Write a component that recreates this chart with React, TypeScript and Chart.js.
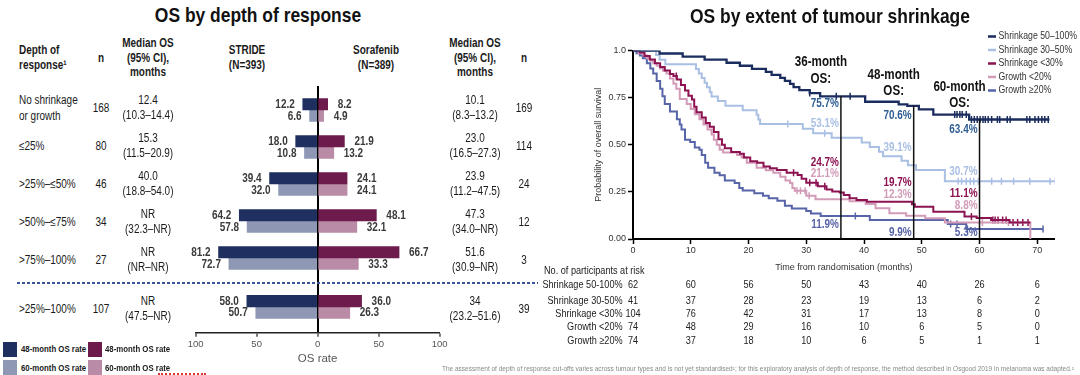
import React, { useEffect, useRef } from 'react';
import { Chart, registerables } from 'chart.js';

Chart.register(...registerables);

const FONT = '"Liberation Sans", Arial, sans-serif';
const SX = 0.83; // horizontal condensing to mimic a narrow face

// ---------------- Left panel: OS by depth of response ----------------
const depthLabels = [['No shrinkage', 'or growth'], ['≤25%'], ['>25%–≤50%'], ['>50%–≤75%'], ['>75%–100%'], ['>25%–100%']];
const strideN = [168, 80, 46, 34, 27, 107];
const strideMedian = ['12.4', '15.3', '40.0', 'NR', 'NR', 'NR'];
const strideCI = ['(10.3–14.4)', '(11.5–20.9)', '(18.8–54.0)', '(32.3–NR)', '(NR–NR)', '(47.5–NR)'];
const soraN = [169, 114, 24, 12, 3, 39];
const soraMedian = ['10.1', '23.0', '23.9', '47.3', '51.6', '34'];
const soraCI = ['(8.3–13.2)', '(16.5–27.3)', '(11.2–47.5)', '(34.0–NR)', '(30.9–NR)', '(23.2–51.6)'];
const stride48 = [12.2, 18.0, 39.4, 64.2, 81.2, 58.0];
const stride60 = [6.6, 10.8, 32.0, 57.8, 72.7, 50.7];
const sora48 = [8.2, 21.9, 24.1, 48.1, 66.7, 36.0];
const sora60 = [4.9, 13.2, 24.1, 32.1, 33.3, 26.3];
const rowSlots = [0, 1, 2, 3, 4, 5.32];
const osRateTicks = [-100, -50, 0, 50, 100];
const barColors = ['#1f2f5f', '#8e98b4', '#6c1b4c', '#b98ba6'];
const legendNames = ['48-month OS rate', '60-month OS rate'];

// ---------------- Right panel: OS by extent of tumour shrinkage ----------------
const groupNames = ['Shrinkage 50–100%', 'Shrinkage 30–50%', 'Shrinkage <30%', 'Growth <20%', 'Growth ≥20%'];
const riskLabels = ['Shrinkage 50-100%', 'Shrinkage 30-50%', 'Shrinkage <30%', 'Growth <20%', 'Growth ≥20%'];
const kmTimeTicks = [0, 10, 20, 30, 40, 50, 60, 70];
const kmSurvTicks = [0, 0.25, 0.5, 0.75, 1];
const curveColors = ['#1b2c5e', '#a9bfe3', '#8c1251', '#d29bb8', '#5864a8'];
const rateColors = ['#2f5e95', '#a9bfe3', '#8c1251', '#d29bb8', '#5864a8'];

const riskShrink50 = [62, 60, 56, 50, 43, 40, 26, 6];
const riskShrink30 = [41, 37, 28, 23, 19, 13, 6, 2];
const riskShrinkLt30 = [104, 76, 42, 31, 17, 13, 8, 0];
const riskGrowthLt20 = [74, 48, 29, 16, 10, 6, 5, 0];
const riskGrowthGe20 = [74, 37, 18, 10, 6, 5, 1, 1];

// [month, survival after the event]
const stepsShrink50 = [[0, 1], [4.6, 0.984], [8.6, 0.968], [12.4, 0.952], [16.2, 0.935], [18.5, 0.919], [20.6, 0.903], [23.0, 0.887], [24.0, 0.871], [25.5, 0.855], [26.3, 0.839], [27.2, 0.823], [27.8, 0.806], [28.8, 0.79], [30.6, 0.774], [32.4, 0.757], [40.2, 0.728], [46.0, 0.714], [47.5, 0.706], [49.5, 0.688], [52.0, 0.66], [58.2, 0.634]];
const stepsShrink30 = [[0, 1], [4.0, 0.976], [4.6, 0.951], [5.6, 0.927], [10.9, 0.902], [11.4, 0.878], [11.9, 0.854], [12.4, 0.829], [12.8, 0.805], [13.3, 0.78], [13.6, 0.756], [14.7, 0.732], [16.0, 0.707], [19.0, 0.683], [21.4, 0.659], [21.7, 0.634], [22.0, 0.61], [29.4, 0.585], [31.2, 0.561], [34.4, 0.537], [39.6, 0.512], [41.0, 0.488], [42.6, 0.463], [43.3, 0.439], [46.5, 0.415], [47.6, 0.391], [49.0, 0.366], [54.0, 0.307]];
const stepsShrinkLt30 = [[0, 1], [1.2, 0.99], [2.0, 0.971], [2.9, 0.952], [3.8, 0.933], [4.7, 0.913], [5.5, 0.894], [6.4, 0.875], [7.0, 0.865], [7.6, 0.846], [8.3, 0.817], [9.0, 0.788], [9.6, 0.76], [10.2, 0.74], [10.6, 0.702], [11.0, 0.673], [11.9, 0.644], [12.6, 0.615], [13.3, 0.596], [14.0, 0.567], [14.8, 0.529], [15.4, 0.5], [15.9, 0.481], [17.0, 0.462], [18.5, 0.452], [19.2, 0.433], [20.3, 0.413], [21.5, 0.404], [22.6, 0.384], [23.7, 0.375], [24.9, 0.366], [26.6, 0.352], [28.5, 0.34], [29.2, 0.32], [30.0, 0.298], [32.0, 0.28], [33.5, 0.262], [34.5, 0.252], [35.8, 0.247], [36.5, 0.233], [37.5, 0.216], [38.7, 0.207], [40.5, 0.197], [48.3, 0.185], [48.8, 0.171], [52.0, 0.145], [57.4, 0.12], [59.5, 0.111], [62.0, 0.101], [65.2, 0.087]];
const stepsGrowthLt20 = [[0, 1], [1.0, 0.986], [1.8, 0.973], [2.4, 0.959], [3.0, 0.946], [3.5, 0.932], [4.1, 0.919], [4.7, 0.905], [5.2, 0.892], [5.8, 0.878], [6.4, 0.851], [7.0, 0.824], [7.5, 0.797], [8.1, 0.743], [9.3, 0.716], [10.0, 0.689], [10.7, 0.662], [11.5, 0.635], [12.2, 0.608], [12.9, 0.581], [13.6, 0.554], [14.0, 0.527], [14.5, 0.5], [15.0, 0.473], [15.6, 0.459], [18.0, 0.446], [18.8, 0.432], [19.7, 0.405], [21.4, 0.378], [23.0, 0.365], [24.3, 0.351], [25.5, 0.33], [26.4, 0.311], [27.2, 0.297], [27.6, 0.27], [28.0, 0.256], [30.0, 0.23], [31.6, 0.211], [37.5, 0.2], [40.3, 0.186], [42.0, 0.163], [44.4, 0.136], [47.3, 0.123], [50.6, 0.11], [54.0, 0.088], [68.8, 0]];
const stepsGrowthGe20 = [[0, 1], [0.6, 0.986], [1.2, 0.973], [1.7, 0.959], [2.4, 0.932], [3.0, 0.905], [3.5, 0.878], [4.1, 0.838], [4.7, 0.797], [5.1, 0.757], [5.5, 0.716], [6.4, 0.676], [7.6, 0.635], [8.1, 0.608], [8.4, 0.581], [9.0, 0.527], [9.9, 0.514], [10.7, 0.486], [11.5, 0.473], [11.9, 0.446], [12.5, 0.405], [13.0, 0.378], [14.1, 0.351], [15.0, 0.338], [15.9, 0.311], [17.6, 0.297], [18.4, 0.27], [19.0, 0.257], [21.0, 0.243], [22.5, 0.23], [23.5, 0.216], [25.0, 0.203], [26.3, 0.176], [27.5, 0.162], [30.0, 0.149], [30.8, 0.135], [32.5, 0.122], [41.0, 0.101], [54.5, 0.079], [57.7, 0.053]];
const curveEnds = [72.1, 73.4, 68.8, 68.8, 71.0];

const censorShrink50 = [30.6, 35.2, 37.6, 55.7, 56.1, 56.6, 57.0, 57.7, 58.6, 59.1, 59.6, 60.1, 60.6, 61.0, 61.5, 62.1, 63.1, 63.5, 64.8, 65.3, 68.2, 68.7, 69.6, 70.2, 70.8, 71.3, 71.9];
const censorShrink30 = [26.8, 33.2, 56.3, 56.9, 57.7, 58.4, 59.0, 59.8, 62.1, 63.8, 65.9, 68.7, 72.2, 73.1];
const censorShrinkLt30 = [7.5, 27.8, 30.6, 31.7, 33.2, 58.6, 62.3, 62.7, 63.2, 64.0, 64.6, 65.8, 66.6, 67.5, 68.4];
const censorGrowthLt20 = [28.4, 29.0, 29.8, 30.5, 60.5, 65.0];
const censorGrowthGe20 = [38.5, 55.0, 56.1, 57.9, 71.0];

const landmarkMonths = [36, 48.6, 60];
const landmarkTitles = ['36-month', '48-month', '60-month'];
const landmarkRates = [
  ['75.7%', '53.1%', '24.7%', '21.1%', '11.9%'],
  ['70.6%', '39.1%', '19.7%', '12.3%', '9.9%'],
  ['63.4%', '30.7%', '11.1%', '8.8%', '5.3%'],
];
// vertical anchor (survival units) where each landmark text sits
const landmarkLabelAt = [
  [0.716, 0.61, 0.407, 0.344, 0.074],
  [0.653, 0.487, 0.3, 0.234, 0.034],
  [0.582, 0.357, 0.239, 0.177, 0.034],
];
const landmarkTitleY = [62.5, 75, 87];

const kmSteps = [stepsShrink50, stepsShrink30, stepsShrinkLt30, stepsGrowthLt20, stepsGrowthGe20];
const kmCensors = [censorShrink50, censorShrink30, censorShrinkLt30, censorGrowthLt20, censorGrowthGe20];
const kmRisk = [riskShrink50, riskShrink30, riskShrinkLt30, riskGrowthLt20, riskGrowthGe20];

const survivalAt = (steps: number[][], t: number) => {
  let s = steps[0][1];
  for (const [ti, si] of steps) {
    if (ti <= t) s = si;
    else break;
  }
  return s;
};

const drawText = (ctx: any, txt: string, x: number, y: number, align: string, k = SX) => {
  ctx.save();
  ctx.translate(x, y);
  ctx.scale(k, 1);
  ctx.textAlign = align;
  ctx.fillText(txt, 0, 0);
  ctx.restore();
};

const T = ({ x, y, a = 'c', s = 12, b = false, c = '#1a1a1a', k = SX, children }: any) => {
  const tx = a === 'c' ? '-50%' : a === 'r' ? '-100%' : '0';
  const origin = a === 'c' ? 'center center' : a === 'r' ? 'right center' : 'left center';
  return (
    <div
      style={{
        position: 'absolute', left: x, top: y, transform: `translate(${tx},-50%) scaleX(${k})`,
        transformOrigin: origin,
        fontFamily: FONT, fontSize: s, fontWeight: b ? 700 : 400, color: c,
        whiteSpace: 'nowrap', lineHeight: 1,
      }}
    >
      {children}
    </div>
  );
};

function DepthChart() {
  const ref = useRef<HTMLCanvasElement>(null);
  useEffect(() => {
    const mk = (vals: number[], sign: number) => vals.map((v, i) => ({ x: sign * v, y: rowSlots[i] }));
    const labelPlugin = {
      id: 'barLabels',
      afterDatasetsDraw(chart: any) {
        const ctx = chart.ctx;
        ctx.save();
        ctx.font = `bold 12px ${FONT}`;
        ctx.fillStyle = '#3a3a3a';
        ctx.textBaseline = 'middle';
        chart.data.datasets.forEach((ds: any, di: number) => {
          const meta = chart.getDatasetMeta(di);
          meta.data.forEach((el: any, i: number) => {
            const v = ds.data[i].x;
            const txt = Math.abs(v).toFixed(1);
            if (v < 0) drawText(ctx, txt, el.x - 8, el.y + 0.5, 'right');
            else drawText(ctx, txt, el.x + 10, el.y + 0.5, 'left');
          });
        });
        ctx.restore();
      },
    };
    const chart = new Chart(ref.current!, {
      type: 'bar',
      data: {
        datasets: [
          { label: 'STRIDE 48', data: mk(stride48, -1), backgroundColor: barColors[0], stack: 'm48' },
          { label: 'STRIDE 60', data: mk(stride60, -1), backgroundColor: barColors[1], stack: 'm60' },
          { label: 'Sorafenib 48', data: mk(sora48, 1), backgroundColor: barColors[2], stack: 'm48' },
          { label: 'Sorafenib 60', data: mk(sora60, 1), backgroundColor: barColors[3], stack: 'm60' },
        ] as any,
      },
      options: {
        indexAxis: 'y',
        animation: false,
        responsive: true,
        maintainAspectRatio: false,
        datasets: { bar: { barThickness: 11.5 } } as any,
        layout: { padding: { left: 35.6, right: 20.3, top: 6, bottom: 7.3 } },
        plugins: { legend: { display: false }, tooltip: { enabled: false } },
        scales: {
          x: {
            type: 'linear', min: -100, max: 100, stacked: true,
            afterBuildTicks: (s: any) => { s.ticks = osRateTicks.map((v) => ({ value: v })); },
            ticks: { callback: (v: any) => String(Math.abs(v)), font: { family: FONT, size: 9.5 }, color: '#555', padding: 1.5 },
            grid: {
              color: (c: any) => (c.tick && c.tick.value === 0 ? '#000' : 'rgba(0,0,0,0)'),
              lineWidth: (c: any) => (c.tick && c.tick.value === 0 ? 2 : 0),
              tickLength: 4, tickColor: '#222', tickWidth: 1.2,
            },
            border: { display: true, color: '#222', width: 1.5 },
            title: { display: true, text: 'OS rate', font: { family: FONT, size: 11.5 }, color: '#555', padding: { top: 0, bottom: 2 } },
            afterFit: (s: any) => { s.height = 35; },
          } as any,
          y: { type: 'linear', reverse: true, offset: false, min: -0.65, max: 6.02, display: false } as any,
        },
      },
      plugins: [labelPlugin],
    });
    return () => chart.destroy();
  }, []);
  return (
    <div style={{ position: 'absolute', left: 160, top: 80, width: 300, height: 295 }}>
      <canvas ref={ref} />
    </div>
  );
}

function KMChart() {
  const ref = useRef<HTMLCanvasElement>(null);
  useEffect(() => {
    const curves = kmSteps.map((steps, i) => ({
      type: 'line',
      label: groupNames[i],
      data: [...steps.map(([x, y]) => ({ x, y })), { x: curveEnds[i], y: steps[steps.length - 1][1] }],
      stepped: 'before',
      borderColor: curveColors[i],
      borderWidth: i === 0 ? 2.3 : 2,
      pointRadius: 0,
      fill: false,
    }));
    const censors = kmCensors.map((cs, i) => ({
      type: 'line',
      label: groupNames[i] + ' censored',
      data: cs.map((t) => ({ x: t, y: survivalAt(kmSteps[i], t) })),
      showLine: false,
      pointStyle: 'line',
      pointRotation: 90,
      pointRadius: 3.5,
      pointBorderWidth: 1.5,
      pointBorderColor: curveColors[i],
      pointBackgroundColor: curveColors[i],
      borderColor: curveColors[i],
    }));
    const overlay = {
      id: 'kmOverlay',
      afterDatasetsDraw(chart: any) {
        const { ctx } = chart;
        const xs = chart.scales.x, ys = chart.scales.y;
        ctx.save();
        landmarkMonths.forEach((m, k) => {
          const px = xs.getPixelForValue(m);
          ctx.strokeStyle = '#111';
          ctx.lineWidth = 1.5;
          ctx.beginPath();
          ctx.moveTo(px, ys.getPixelForValue(0));
          ctx.lineTo(px, ys.getPixelForValue(survivalAt(kmSteps[0], m)));
          ctx.stroke();
          ctx.fillStyle = '#111';
          ctx.font = `bold 14px ${FONT}`;
          ctx.textBaseline = 'middle';
          drawText(ctx, landmarkTitles[k], px - 20, landmarkTitleY[k], 'center');
          drawText(ctx, 'OS:', px - 20, landmarkTitleY[k] + 16.5, 'center');
          ctx.font = `bold 12px ${FONT}`;
          landmarkRates[k].forEach((r, g) => {
            ctx.fillStyle = rateColors[g];
            drawText(ctx, r, px - 2, ys.getPixelForValue(landmarkLabelAt[k][g]), 'right');
          });
        });
        ctx.restore();
      },
      afterDraw(chart: any) {
        const { ctx } = chart;
        const xs = chart.scales.x;
        ctx.save();
        // legend
        const legendY = [36.5, 50, 63.5, 77, 90.5];
        groupNames.forEach((name, i) => {
          const y = legendY[i];
          ctx.strokeStyle = curveColors[i];
          ctx.lineWidth = 2.5;
          ctx.beginPath();
          ctx.moveTo(448, y);
          ctx.lineTo(456, y);
          ctx.stroke();
          ctx.fillStyle = '#333';
          ctx.font = `10.5px ${FONT}`;
          ctx.textBaseline = 'middle';
          drawText(ctx, name, 458.5, y, 'left');
        });
        // numbers at risk
        const rowY = [284.5, 300.5, 313.5, 326.5, 340.5];
        ctx.font = `11px ${FONT}`;
        ctx.fillStyle = '#222';
        ctx.textBaseline = 'middle';
        drawText(ctx, 'No. of participants at risk', 4, 271, 'left');
        kmRisk.forEach((row, r) => {
          drawText(ctx, riskLabels[r], 82.6, rowY[r], 'right');
          row.forEach((n, i) => drawText(ctx, String(n), xs.getPixelForValue(kmTimeTicks[i]), rowY[r], 'center'));
        });
        ctx.restore();
      },
    };
    const chart = new Chart(ref.current!, {
      type: 'line',
      data: { datasets: [...curves, ...censors] as any },
      options: {
        animation: false,
        responsive: true,
        maintainAspectRatio: false,
        layout: { padding: { left: 0, right: 25.4, top: 50.5, bottom: 102 } },
        plugins: { legend: { display: false }, tooltip: { enabled: false } },
        scales: {
          x: {
            type: 'linear', min: 0, max: 73,
            afterBuildTicks: (s: any) => { s.ticks = kmTimeTicks.map((v) => ({ value: v })); },
            ticks: { font: { family: FONT, size: 9 }, color: '#333', padding: 1.5, maxRotation: 0, autoSkip: false },
            grid: { drawOnChartArea: false, tickLength: 5, tickColor: '#000', tickWidth: 1.5 },
            border: { color: '#000', width: 2 },
            title: { display: true, text: 'Time from randomisation (months)', font: { family: FONT, size: 9 }, color: '#333', padding: { top: 0, bottom: 0.5 } },
            afterFit: (s: any) => { s.height = 34; },
          } as any,
          y: {
            type: 'linear', min: 0, max: 1,
            afterBuildTicks: (s: any) => { s.ticks = kmSurvTicks.map((v) => ({ value: v })); },
            ticks: { callback: (v: any) => (v === 1 ? '1.0' : Number(v).toFixed(2)), font: { family: FONT, size: 9 }, color: '#333', padding: 2 },
            grid: { drawOnChartArea: false, tickLength: 5, tickColor: '#000', tickWidth: 1.5 },
            border: { color: '#000', width: 2 },
            title: { display: true, text: 'Probability of overall survival', font: { family: FONT, size: 9 }, color: '#333', padding: { top: 53, bottom: 0 } },
            afterFit: (s: any) => { s.width = 93; },
          } as any,
        },
      },
      plugins: [overlay],
    });
    return () => chart.destroy();
  }, []);
  return (
    <div style={{ position: 'absolute', left: 540, top: 0, width: 540, height: 375 }}>
      <canvas ref={ref} />
    </div>
  );
}

const textRowY = [108, 146, 184, 222, 260, 309];

export default function App() {
  useEffect(() => { document.body.style.margin = '0'; }, []);
  return (
    <div style={{ position: 'fixed', left: 0, top: 0, width: 1080, height: 375, background: '#fff', overflow: 'hidden' }}>
      <DepthChart />
      <KMChart />
      {/* left titles */}
      <T x={258} y={14} s={21} b c="#111">OS by depth of response</T>
      <T x={19} y={50} a="l" b>Depth of</T>
      <T x={19} y={65} a="l" b>response¹</T>
      <T x={101} y={58} b>n</T>
      <T x={148} y={43} b>Median OS</T>
      <T x={148} y={57.5} b>(95% CI),</T>
      <T x={148} y={72} b>months</T>
      <T x={246.6} y={50} b>STRIDE</T>
      <T x={246.6} y={64.5} b>(N=393)</T>
      <T x={376} y={50} b>Sorafenib</T>
      <T x={376} y={64.5} b>(N=389)</T>
      <T x={474.5} y={43} b>Median OS</T>
      <T x={474.5} y={57.5} b>(95% CI),</T>
      <T x={474.5} y={72} b>months</T>
      <T x={524} y={58} b>n</T>
      {depthLabels.map((lines, i) => (
        <React.Fragment key={i}>
          {lines.length === 2 ? (
            <>
              <T x={19} y={textRowY[i] - 8} a="l">{lines[0]}</T>
              <T x={19} y={textRowY[i] + 7.5} a="l">{lines[1]}</T>
            </>
          ) : (
            <T x={19} y={textRowY[i]} a="l">{lines[0]}</T>
          )}
          <T x={101} y={textRowY[i]}>{strideN[i]}</T>
          <T x={148} y={textRowY[i] - 8.5}>{strideMedian[i]}</T>
          <T x={148} y={textRowY[i] + 6.5}>{strideCI[i]}</T>
          <T x={474.5} y={textRowY[i] - 8.5}>{soraMedian[i]}</T>
          <T x={474.5} y={textRowY[i] + 6.5}>{soraCI[i]}</T>
          <T x={524} y={textRowY[i]}>{soraN[i]}</T>
        </React.Fragment>
      ))}
      <div style={{ position: 'absolute', left: 17, top: 282, width: 521, height: 1.5, background: 'repeating-linear-gradient(90deg, #3a5595 0 3px, transparent 3px 5px)' }} />
      {/* left legend */}
      <div style={{ position: 'absolute', left: 3, top: 341.5, width: 14, height: 15, background: barColors[0] }} />
      <div style={{ position: 'absolute', left: 3, top: 359.5, width: 14, height: 15, background: barColors[1] }} />
      <div style={{ position: 'absolute', left: 88, top: 341.5, width: 14, height: 15, background: barColors[2] }} />
      <div style={{ position: 'absolute', left: 88, top: 359.5, width: 14, height: 15, background: barColors[3] }} />
      <T x={20.5} y={349} a="l" s={8.5} b k={0.92}>{legendNames[0]}</T>
      <T x={20.5} y={367.5} a="l" s={8.5} b k={0.92}>{legendNames[1]}</T>
      <T x={105} y={349} a="l" s={8.5} b k={0.92}>{legendNames[0]}</T>
      <T x={105} y={367.5} a="l" s={8.5} b k={0.92}>{legendNames[1]}</T>
      <div style={{ position: 'absolute', left: 158, top: 372.5, width: 48, height: 0, borderTop: '2px dotted #d33' }} />
      {/* right title + footnote */}
      <T x={829.6} y={14.5} s={21} b c="#111">OS by extent of tumour shrinkage</T>
      <T x={442} y={369} a="l" s={6.5} c="#888" k={1}>
        The assessment of depth of response cut-offs varies across tumour types and is not yet standardised¹; for this exploratory analysis of depth of response, the method described in Osgood 2019 in melanoma was adapted.²
      </T>
    </div>
  );
}
